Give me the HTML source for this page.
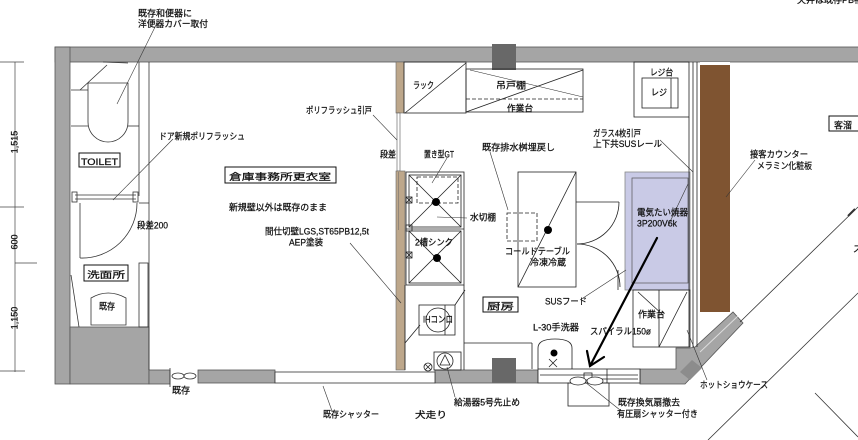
<!DOCTYPE html>
<html><head><meta charset="utf-8">
<style>
html,body{margin:0;padding:0;background:#fff;}
svg{display:block;}
text{font-family:"Liberation Sans","Noto Sans CJK JP",sans-serif;fill:#111;font-size:9px;stroke:#111;stroke-width:0.25px;}
</style></head><body>
<svg width="858" height="440" viewBox="0 0 858 440" xmlns="http://www.w3.org/2000/svg">
<rect width="858" height="440" fill="#fff"/>

<!-- dimension lines -->
<g stroke="#444" stroke-width="0.7" fill="none">
<line x1="15" y1="62" x2="15" y2="372"/>
<line x1="0" y1="62" x2="24" y2="62"/>
<line x1="0" y1="207" x2="24" y2="207"/>
<line x1="15" y1="263" x2="37" y2="263"/>
<line x1="0" y1="371" x2="25" y2="371"/>
</g>
<text transform="translate(17.5,142) rotate(-90)" text-anchor="middle">1,515</text>
<text transform="translate(17.5,242) rotate(-90)" text-anchor="middle">600</text>
<text transform="translate(17.5,318) rotate(-90)" text-anchor="middle">1,150</text>

<!-- walls -->
<g fill="#a5a5a5" stroke="#555" stroke-width="0.8">
<rect x="55" y="47" width="805" height="15"/>
<rect x="55" y="47" width="15" height="337"/>
<rect x="70" y="327" width="79" height="57"/>
<rect x="149" y="370" width="21" height="14"/>
<rect x="198" y="370" width="77" height="13"/>
<rect x="435" y="370" width="103" height="13"/>
<polygon points="640,369 676,369 676,348 690,348 695,347 733,312 743,323 685,384 640,384"/>
</g>
<polygon points="680,372 692,360 702,368 690,380" fill="#8c8c8c"/>
<line x1="700" y1="352" x2="738" y2="316" stroke="#ddd" stroke-width="1"/>
<rect x="492" y="44" width="24" height="26" fill="#686868"/>
<rect x="492" y="358" width="24" height="25" fill="#686868"/>

<!-- toilet / washroom -->
<g stroke="#333" stroke-width="0.8" fill="none">
<line x1="139" y1="62" x2="139" y2="196"/>
<line x1="149" y1="62" x2="149" y2="370"/>
<path d="M88,83 H128 V122 A20,20 0 0 1 88,122 Z"/>
<line x1="71" y1="90" x2="88" y2="90"/>
<line x1="71" y1="126" x2="88" y2="126"/>
<line x1="128" y1="126" x2="139" y2="126"/>
<line x1="80" y1="90" x2="107" y2="65"/>
<line x1="103" y1="62" x2="128" y2="63"/>
<line x1="75" y1="195" x2="136" y2="195"/>
<line x1="75" y1="199" x2="136" y2="199"/>
<rect x="72" y="192" width="5" height="10"/>
<rect x="133" y="192" width="5" height="10"/>
<line x1="139" y1="203" x2="149" y2="203"/>
<line x1="80" y1="203" x2="80" y2="258"/>
<path d="M80,258 A55,55 0 0 0 137,203"/>
<line x1="71" y1="275" x2="79" y2="327"/>
<rect x="139" y="263" width="9" height="64"/>
<path d="M91,298 Q108,288 126,298 V325 H91 Z"/>
<line x1="170" y1="368" x2="170" y2="387"/>
<ellipse cx="178" cy="376" rx="6" ry="3"/>
<ellipse cx="190" cy="376" rx="6" ry="3"/>
<rect x="275" y="372" width="160" height="11" fill="#fff"/>
</g>
<rect x="79" y="153" width="41" height="14" fill="#fff" stroke="#111" stroke-width="1"/>
<text x="81" y="165" font-size="11" textLength="37" lengthAdjust="spacingAndGlyphs">TOILET</text>
<rect x="84" y="265" width="44" height="16" fill="#fff" stroke="#111" stroke-width="1"/>
<text x="87" y="278" font-size="12.5" textLength="38" lengthAdjust="spacingAndGlyphs">洗面所</text>
<text x="99" y="309.5" font-size="8.5" textLength="16" lengthAdjust="spacingAndGlyphs">既存</text>

<!-- brown partition -->
<rect x="396" y="62" width="8" height="51" fill="#bda78b" stroke="#666" stroke-width="0.6"/>
<rect x="397" y="113" width="3" height="58" fill="#fff" stroke="#555" stroke-width="0.6"/>
<rect x="396" y="171" width="9" height="199" fill="#bda78b" stroke="#666" stroke-width="0.6"/>
<line x1="398.5" y1="172" x2="398.5" y2="230" stroke="#666" stroke-width="0.5"/>

<!-- kitchen fixtures -->
<g stroke="#222" stroke-width="0.8" fill="none">
<rect x="404" y="62" width="62" height="51"/>
<line x1="405" y1="113" x2="466" y2="63"/>
<rect x="466" y="69" width="117" height="43"/>
<line x1="466" y1="99" x2="583" y2="99" stroke-dasharray="4,2"/>
<line x1="466" y1="112" x2="583" y2="70"/>
<line x1="470" y1="70" x2="583" y2="97" stroke-width="0.5"/>
<rect x="406" y="172" width="58" height="113"/>
<rect x="409" y="175" width="52" height="52"/>
<rect x="409" y="231" width="52" height="52"/>
<line x1="406" y1="229" x2="464" y2="229"/>
<line x1="409" y1="175" x2="461" y2="227"/>
<line x1="461" y1="175" x2="409" y2="227"/>
<line x1="409" y1="231" x2="461" y2="283"/>
<line x1="461" y1="231" x2="409" y2="283"/>
<rect x="417" y="177" width="41" height="26" stroke-dasharray="4,2"/>
<rect x="406" y="197" width="6" height="6"/>
<line x1="406" y1="197" x2="412" y2="203"/><line x1="412" y1="197" x2="406" y2="203"/>
<rect x="406" y="225" width="6" height="6"/>
<rect x="406" y="252" width="6" height="6"/>
<line x1="406" y1="252" x2="412" y2="258"/><line x1="412" y1="252" x2="406" y2="258"/>
<line x1="405" y1="285" x2="405" y2="370"/>
<line x1="464" y1="285" x2="464" y2="370"/>
<rect x="419" y="305" width="36" height="30"/>
<line x1="445" y1="305" x2="445" y2="335"/>
<circle cx="438" cy="320" r="12"/>
<line x1="405" y1="343" x2="420" y2="325"/>
<line x1="455" y1="305" x2="465" y2="290"/>
<line x1="464" y1="343" x2="532" y2="343"/>
<line x1="532" y1="343" x2="532" y2="369"/>
<rect x="434" y="352" width="27" height="18"/>
<circle cx="445" cy="361" r="8"/>
<path d="M445,355 L440,365 L450,365 Z"/>
<circle cx="428" cy="367" r="4"/>
<line x1="425" y1="364" x2="431" y2="370"/><line x1="431" y1="364" x2="425" y2="370"/>
<rect x="518" y="172" width="58" height="115"/>
<line x1="576" y1="172" x2="518" y2="287"/>
<rect x="507" y="213" width="30" height="28" stroke-dasharray="4,2"/>
<line x1="576" y1="202" x2="619" y2="202"/>
<path d="M619,202 A42,42 0 0 1 577,244"/>
<path d="M577,244 A43,43 0 0 1 620,287"/>
<line x1="618" y1="270" x2="618" y2="290"/>
<path d="M538,369 V348 Q538,339 555,339 Q572,339 572,348 V369"/>
<line x1="549" y1="359" x2="557" y2="367"/><line x1="557" y1="359" x2="549" y2="367"/>
<rect x="538" y="369" width="102" height="14" fill="#fff"/>
<line x1="540" y1="375" x2="638" y2="375"/>
<line x1="590" y1="379" x2="638" y2="379"/>
<rect x="584" y="373" width="8" height="7"/>
<line x1="607" y1="369" x2="607" y2="383"/>
<rect x="568" y="383" width="41" height="23"/>
<ellipse cx="578" cy="381" rx="8" ry="4" fill="#fff"/>
<ellipse cx="595" cy="381" rx="8" ry="4" fill="#fff"/>
<rect x="634" y="62" width="55" height="55"/>
<rect x="642" y="78" width="36" height="30"/>
<line x1="671" y1="78" x2="671" y2="108"/>
</g>
<circle cx="436" cy="202" r="4" fill="#000"/>
<circle cx="437" cy="258" r="4" fill="#000"/>
<circle cx="548" cy="230" r="4" fill="#000"/>
<circle cx="554" cy="353" r="3.5" fill="#000"/>

<!-- electric machine -->
<rect x="625" y="172" width="65" height="118" fill="#c9cae6" stroke="#888" stroke-width="0.8"/>
<rect x="632" y="178" width="56" height="105" fill="none" stroke="#555" stroke-width="0.7"/>
<g stroke="#222" stroke-width="0.8" fill="none">
<rect x="633" y="290" width="57" height="57"/>
<line x1="659" y1="290" x2="659" y2="347"/>
<line x1="659" y1="347" x2="687" y2="292"/>
<line x1="638" y1="292" x2="663" y2="315"/>
<line x1="689" y1="117" x2="689" y2="347"/>
<line x1="693" y1="62" x2="693" y2="347"/>
<line x1="697" y1="62" x2="697" y2="347"/>
</g>
<rect x="700" y="62" width="30" height="250" fill="#7f5431"/>
<rect x="700" y="62" width="30" height="3" fill="#fff"/>

<!-- right diagonal lines -->
<g stroke="#333" stroke-width="0.8">
<line x1="740" y1="322" x2="858" y2="207"/>
<line x1="708" y1="440" x2="858" y2="293"/>
<line x1="815" y1="393" x2="858" y2="437"/>
<line x1="848" y1="216" x2="855" y2="209" stroke-width="2"/>
</g>

<!-- arrow -->
<g stroke="#000" stroke-width="2.2" fill="none" stroke-linecap="round">
<line x1="657" y1="238" x2="590" y2="366"/>
<polyline points="587,351 590,366 604,357"/>
</g>

<!-- leaders -->
<g stroke="#333" stroke-width="0.6">
<line x1="157" y1="23" x2="117" y2="104"/>
<line x1="173" y1="139" x2="113" y2="200"/>
<line x1="373" y1="115" x2="397" y2="140"/>
<line x1="447" y1="158" x2="432" y2="183"/>
<line x1="490" y1="152" x2="508" y2="210"/>
<line x1="437" y1="217" x2="467" y2="218"/>
<line x1="350" y1="243" x2="401" y2="303"/>
<line x1="323" y1="386" x2="332" y2="411"/>
<line x1="447" y1="367" x2="455" y2="397"/>
<line x1="660" y1="140" x2="693" y2="172"/>
<line x1="755" y1="160" x2="726" y2="197"/>
<line x1="688" y1="184" x2="668" y2="226"/>
<line x1="580" y1="300" x2="626" y2="270"/>
<line x1="687" y1="330" x2="707" y2="380"/>
<line x1="585" y1="382" x2="620" y2="410"/>
</g>

<!-- labels -->
<text x="138" y="16.5" textLength="54" lengthAdjust="spacingAndGlyphs">既存和便器に</text>
<text x="138" y="27" textLength="70" lengthAdjust="spacingAndGlyphs">洋便器カバー取付</text>
<text x="159" y="139.5" textLength="86" lengthAdjust="spacingAndGlyphs">ドア新規ポリフラッシュ</text>
<text x="137" y="228.5" textLength="31" lengthAdjust="spacingAndGlyphs">段差200</text>
<rect x="225" y="167" width="111" height="16" fill="#fff" stroke="#111" stroke-width="1"/>
<text x="229" y="180" font-size="12.5" textLength="102" lengthAdjust="spacingAndGlyphs">倉庫事務所更衣室</text>
<text x="229" y="210.5" textLength="98" lengthAdjust="spacingAndGlyphs">新規壁以外は既存のまま</text>
<text x="265" y="234.5" textLength="104" lengthAdjust="spacingAndGlyphs">間仕切壁LGS,ST65PB12,5t</text>
<text x="289" y="245.5" textLength="34" lengthAdjust="spacingAndGlyphs">AEP塗装</text>
<text x="306" y="113.5" textLength="66" lengthAdjust="spacingAndGlyphs">ポリフラッシュ引戸</text>
<text x="380" y="157.5" textLength="16" lengthAdjust="spacingAndGlyphs">段差</text>
<text x="413" y="88.5" textLength="21" lengthAdjust="spacingAndGlyphs">ラック</text>
<text x="496" y="88.5" textLength="30" lengthAdjust="spacingAndGlyphs">吊戸棚</text>
<text x="507" y="111.5" textLength="26" lengthAdjust="spacingAndGlyphs">作業台</text>
<text x="424" y="157.5" textLength="30" lengthAdjust="spacingAndGlyphs">置き型GT</text>
<text x="482" y="150.5" textLength="73" lengthAdjust="spacingAndGlyphs">既存排水桝埋戻し</text>
<text x="470" y="220.5" textLength="26" lengthAdjust="spacingAndGlyphs">水切棚</text>
<text x="415" y="245.5" textLength="38" lengthAdjust="spacingAndGlyphs">2槽シンク</text>
<text x="505" y="254.5" textLength="65" lengthAdjust="spacingAndGlyphs">コールドテーブル</text>
<text x="530" y="265.5" textLength="36" lengthAdjust="spacingAndGlyphs">冷凍冷蔵</text>
<rect x="483" y="297" width="35" height="15" fill="#fff" stroke="#111" stroke-width="1"/>
<text x="487" y="309.5" font-size="12" textLength="27" lengthAdjust="spacingAndGlyphs">厨房</text>
<text x="545" y="304.5" textLength="42" lengthAdjust="spacingAndGlyphs">SUSフード</text>
<text x="533" y="330.5" textLength="46" lengthAdjust="spacingAndGlyphs">L-30手洗器</text>
<text x="423" y="322.5" font-size="8.5" textLength="30" lengthAdjust="spacingAndGlyphs">IHコンロ</text>
<text x="454" y="405.5" textLength="66" lengthAdjust="spacingAndGlyphs">給湯器5号先止め</text>
<text x="323" y="417.5" textLength="56" lengthAdjust="spacingAndGlyphs">既存シャッター</text>
<text x="415" y="418" font-size="12" textLength="32" lengthAdjust="spacingAndGlyphs">犬走り</text>
<text x="172" y="393.5" textLength="18" lengthAdjust="spacingAndGlyphs">既存</text>
<text x="590" y="334.5" textLength="61" lengthAdjust="spacingAndGlyphs">スパイラル150ø</text>
<text x="638" y="317.5" textLength="27" lengthAdjust="spacingAndGlyphs">作業台</text>
<text x="618" y="405.5" textLength="62" lengthAdjust="spacingAndGlyphs">既存換気扇撤去</text>
<text x="617" y="417" textLength="81" lengthAdjust="spacingAndGlyphs">有圧扇シャッター付き</text>
<text x="700" y="388" textLength="68" lengthAdjust="spacingAndGlyphs">ホットショウケース</text>
<text x="637" y="215.5" textLength="51" lengthAdjust="spacingAndGlyphs">電気たい焼器</text>
<text x="637" y="226.5" textLength="40" lengthAdjust="spacingAndGlyphs">3P200V6k</text>
<text x="650" y="75.5" textLength="23" lengthAdjust="spacingAndGlyphs">レジ台</text>
<text x="651" y="95.5" textLength="16" lengthAdjust="spacingAndGlyphs">レジ</text>
<text x="593" y="136.5" textLength="48" lengthAdjust="spacingAndGlyphs">ガラス4枚引戸</text>
<text x="593" y="147" textLength="69" lengthAdjust="spacingAndGlyphs">上下共SUSレール</text>
<text x="750" y="157.5" textLength="58" lengthAdjust="spacingAndGlyphs">接客カウンター</text>
<text x="757" y="169" textLength="55" lengthAdjust="spacingAndGlyphs">メラミン化粧板</text>
<rect x="829" y="116" width="35" height="15" fill="#fff" stroke="#111" stroke-width="1"/>
<text x="834" y="128.5" font-size="13">客溜</text>
<text x="853" y="252" font-size="12">ス</text>
<text x="797" y="3" font-size="8" fill="#444">天井は既存PB補修</text>
</svg>
</body></html>
